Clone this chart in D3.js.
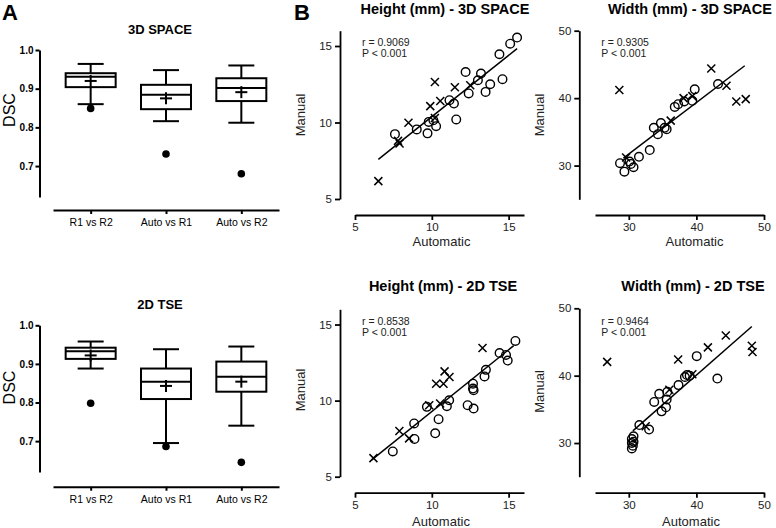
<!DOCTYPE html>
<html><head><meta charset="utf-8">
<script src="https://cdn.jsdelivr.net/npm/d3@7"></script>
<style>body{margin:0;background:#fff}svg{display:block;font-family:"Liberation Sans",Arial,sans-serif}</style>
</head><body>
<script>
// ---------- DATA ----------
const boxCategories = ["R1 vs R2", "Auto vs R1", "Auto vs R2"];
const dscTicks = [0.7, 0.8, 0.9, 1.0];

const spaceWhiskerHigh = [0.964, 0.948, 0.960];
const spaceQ3          = [0.940, 0.910, 0.927];
const spaceMedian      = [0.931, 0.884, 0.902];
const spaceQ1          = [0.904, 0.847, 0.868];
const spaceWhiskerLow  = [0.860, 0.816, 0.812];
const spaceMean        = [0.920, 0.875, 0.891];
const spaceOutliers    = [0.849, 0.731, 0.680];

const tseWhiskerHigh = [0.958, 0.938, 0.945];
const tseQ3          = [0.942, 0.888, 0.906];
const tseMedian      = [0.933, 0.854, 0.867];
const tseQ1          = [0.913, 0.809, 0.828];
const tseWhiskerLow  = [0.888, 0.695, 0.740];
const tseMean        = [0.922, 0.843, 0.854];
const tseOutliers    = [0.798, 0.686, 0.645];

const heightTicks = [5, 10, 15];
const widthTicks = [30, 40, 50];

const heightSpaceCircles = [[15.55,15.55],[15.1,15.15],[14.4,14.46],[14.6,12.83],[13.8,12.5],[13.5,12.0],[13.2,13.2],[13.0,12.76],[12.2,13.3],[12.4,11.9],[11.15,11.46],[11.44,11.24],[11.59,10.2],[9.8,10.04],[10.1,10.15],[10.28,9.76],[9.72,9.29],[9.02,9.55],[7.6,9.24]];
const heightSpaceCrosses = [[10.2,12.65],[11.5,12.3],[12.5,12.44],[10.55,11.41],[9.9,11.07],[8.48,9.98],[7.9,8.63],[7.8,8.8],[6.52,6.17],[10.2,10.3]];
const heightSpaceFit = [[6.52,7.59],[15.55,14.83]];

const widthSpaceCircles = [[43.2,42.1],[39.75,41.3],[39.4,39.6],[38.2,39.5],[36.8,38.7],[37.3,39.1],[34.75,36.3],[33.7,35.6],[34.3,34.65],[35.6,35.4],[35.3,35.6],[33.1,32.3],[31.5,31.3],[28.7,30.35],[30.1,30.6],[29.35,29.1],[30.7,29.75],[30.3,30.25]];
const widthSpaceCrosses = [[28.6,41.2],[42.2,44.4],[44.45,41.85],[45.9,39.5],[47.3,39.85],[36.2,36.67],[29.6,31.2],[38.1,40.0],[39.4,40.3]];
const widthSpaceFit = [[29.2,31.1],[47.15,44.8]];

const heightTseCircles = [[15.44,13.92],[14.41,13.13],[14.83,13.0],[14.94,12.63],[13.52,12.02],[13.43,11.59],[12.68,11.11],[12.68,10.79],[12.72,10.68],[12.33,9.7],[12.72,9.48],[11.13,10.02],[10.98,9.63],[9.68,9.59],[10.44,8.78],[10.22,7.85],[8.85,8.5],[8.87,7.48],[7.46,6.66]];
const heightTseCrosses = [[13.3,13.46],[10.83,11.92],[11.15,11.55],[10.28,11.11],[10.76,11.11],[10.54,9.81],[9.83,9.7],[7.89,8.0],[8.52,7.52],[6.2,6.22]];
const heightTseFit = [[6.09,6.11],[15.33,13.61]];

const widthTseCircles = [[40.05,42.9],[43.1,39.57],[38.3,39.8],[38.6,40.1],[39.0,40.0],[37.35,38.6],[35.7,37.6],[34.5,37.3],[33.76,36.1],[35.6,36.46],[35.5,35.3],[34.85,34.7],[31.56,32.67],[33.0,32.0],[30.7,31.0],[30.45,30.6],[30.7,30.2],[30.45,30.0],[30.6,29.6],[30.45,29.2]];
const widthTseCrosses = [[26.8,42.05],[37.3,42.4],[41.7,44.2],[44.35,45.95],[48.2,44.45],[48.3,43.5],[39.4,40.2],[36.0,37.9],[32.5,32.5]];
const widthTseFit = [[30.6,31.8],[48.2,47.3]];

const rLabels = ["r = 0.9069", "r = 0.9305", "r = 0.8538", "r = 0.9464"];
const pLabel = "P < 0.001";

// ---------- DRAW ----------
const svg = d3.select("body").append("svg").attr("width", 776).attr("height", 528);

svg.append("text").attr("x", 2).attr("y", 19.5).attr("font-size", 22).attr("font-weight", "bold").text("A");
svg.append("text").attr("x", 294).attr("y", 19.5).attr("font-size", 22).attr("font-weight", "bold").text("B");

function boxPanel(o) {
  const g = svg.append("g");
  const x = d3.scalePoint().domain(boxCategories).range([53, 279]).padding(0.5);
  const y = d3.scaleLinear().domain([0.62, 1.0]).range([o.bottom, o.top]);
  const ya = g.append("g").attr("transform", "translate(39.5,0)")
    .call(d3.axisLeft(y).tickValues(dscTicks).tickFormat(d3.format(".1f")).tickSize(4).tickSizeOuter(0).tickPadding(2));
  ya.selectAll("text").attr("font-size", 10).attr("font-weight", "bold").attr("font-family", "Liberation Sans, Arial, sans-serif");
  ya.selectAll("path,line").attr("stroke-width", 2);
  const xa = g.append("g").attr("transform", `translate(0,${o.axisY})`)
    .call(d3.axisBottom(x).tickSize(4).tickSizeOuter(0).tickPadding(4.5));
  xa.selectAll("text").attr("font-size", 10.5).attr("font-family", "Liberation Sans, Arial, sans-serif");
  xa.selectAll("path,line").attr("stroke-width", 2);

  g.append("text").attr("x", 160).attr("y", o.titleY).attr("text-anchor", "middle")
    .attr("font-size", 13).attr("font-weight", "bold").text(o.title);
  g.append("text").attr("transform", `translate(14.5,${o.dscY}) rotate(-90)`).attr("text-anchor", "middle")
    .attr("font-size", 16).text("DSC");

  const bw = 50, cw = 26, pw = 6;
  boxCategories.forEach((c, i) => {
    const cx = x(c);
    const line = (x1, y1, x2, y2) => g.append("line").attr("x1", x1).attr("y1", y1).attr("x2", x2).attr("y2", y2)
      .attr("stroke", "#000").attr("stroke-width", 2);
    line(cx, y(o.wh[i]), cx, y(o.q3[i]));
    line(cx, y(o.q1[i]), cx, y(o.wl[i]));
    line(cx - cw / 2, y(o.wh[i]), cx + cw / 2, y(o.wh[i]));
    line(cx - cw / 2, y(o.wl[i]), cx + cw / 2, y(o.wl[i]));
    g.append("rect").attr("x", cx - bw / 2).attr("y", y(o.q3[i])).attr("width", bw)
      .attr("height", y(o.q1[i]) - y(o.q3[i])).attr("fill", "none").attr("stroke", "#000").attr("stroke-width", 2);
    line(cx - bw / 2, y(o.med[i]), cx + bw / 2, y(o.med[i]));
    line(cx - pw, y(o.mean[i]), cx + pw, y(o.mean[i]));
    line(cx, y(o.mean[i]) - pw, cx, y(o.mean[i]) + pw);
    g.append("circle").attr("cx", cx).attr("cy", y(o.out[i])).attr("r", 3.8).attr("fill", "#000");
  });
}

boxPanel({ top: 50, bottom: 197, axisY: 210, titleY: 34, dscY: 110, title: "3D SPACE",
  wh: spaceWhiskerHigh, q3: spaceQ3, med: spaceMedian, q1: spaceQ1, wl: spaceWhiskerLow, mean: spaceMean, out: spaceOutliers });
boxPanel({ top: 325.3, bottom: 472, axisY: 486.7, titleY: 309, dscY: 387.5, title: "2D TSE",
  wh: tseWhiskerHigh, q3: tseQ3, med: tseMedian, q1: tseQ1, wl: tseWhiskerLow, mean: tseMean, out: tseOutliers });

function scatterPanel(o) {
  const g = svg.append("g");
  const x = d3.scaleLinear().domain(o.dom).range([o.x0, o.x1]);
  const y = d3.scaleLinear().domain(o.dom).range([o.yBottom, o.yTop]);
  const ya = g.append("g").attr("transform", `translate(${o.yAxisX},0)`)
    .call(d3.axisLeft(y).tickValues(o.ticks).tickSize(5).tickSizeOuter(0).tickPadding(3));
  const xa = g.append("g").attr("transform", `translate(0,${o.xAxisY})`)
    .call(d3.axisBottom(x).tickValues(o.ticks).tickSize(5).tickSizeOuter(0).tickPadding(3));
  [ya, xa].forEach(a => {
    a.selectAll("text").attr("font-size", 11.5).attr("font-family", "Liberation Sans, Arial, sans-serif").attr("fill", "#222");
    a.selectAll("path,line").attr("stroke-width", 1.8);
  });
  g.append("text").attr("x", o.titleX).attr("y", o.titleY).attr("text-anchor", "middle")
    .attr("font-size", 14.5).attr("font-weight", "bold").text(o.title);
  g.append("text").attr("transform", `translate(${o.manX},${o.manY}) rotate(-90)`).attr("text-anchor", "middle")
    .attr("font-size", 13).attr("fill", "#222").text("Manual");
  g.append("text").attr("x", o.autoX).attr("y", o.autoY).attr("text-anchor", "middle")
    .attr("font-size", 13).attr("fill", "#222").text("Automatic");
  g.append("text").attr("x", o.yAxisX + 22).attr("y", o.rY).attr("font-size", 10.5).attr("fill", "#222").text(o.r);
  g.append("text").attr("x", o.yAxisX + 22).attr("y", o.rY + 11).attr("font-size", 10.5).attr("fill", "#222").text(pLabel);

  g.append("line").attr("x1", x(o.fit[0][0])).attr("y1", y(o.fit[0][1]))
    .attr("x2", x(o.fit[1][0])).attr("y2", y(o.fit[1][1])).attr("stroke", "#000").attr("stroke-width", 1.5);
  g.selectAll(".c").data(o.circles).enter().append("circle")
    .attr("cx", d => x(d[0])).attr("cy", d => y(d[1])).attr("r", 4.3)
    .attr("fill", "none").attr("stroke", "#000").attr("stroke-width", 1.4);
  const k = 4;
  g.selectAll(".x").data(o.crosses).enter().append("path")
    .attr("d", d => { const cx = x(d[0]), cy = y(d[1]);
      return `M${cx - k},${cy - k}L${cx + k},${cy + k}M${cx - k},${cy + k}L${cx + k},${cy - k}`; })
    .attr("stroke", "#000").attr("stroke-width", 1.5).attr("fill", "none");
}

scatterPanel({ title: "Height (mm) - 3D SPACE", titleX: 445, titleY: 14, dom: [5, 16], ticks: heightTicks,
  x0: 355, x1: 524, yBottom: 199, yTop: 30.7, yAxisX: 340, xAxisY: 215,
  manX: 305, manY: 115, autoX: 441.5, autoY: 246, rY: 46, r: rLabels[0],
  circles: heightSpaceCircles, crosses: heightSpaceCrosses, fit: heightSpaceFit });
scatterPanel({ title: "Width (mm) - 3D SPACE", titleX: 690, titleY: 14, dom: [25, 50], ticks: widthTicks,
  x0: 595, x1: 764, yBottom: 199.3, yTop: 30.7, yAxisX: 579.3, xAxisY: 215,
  manX: 543.5, manY: 115, autoX: 694.5, autoY: 246, rY: 46, r: rLabels[1],
  circles: widthSpaceCircles, crosses: widthSpaceCrosses, fit: widthSpaceFit });
scatterPanel({ title: "Height (mm) - 2D TSE", titleX: 443, titleY: 290.5, dom: [5, 16], ticks: heightTicks,
  x0: 355, x1: 524, yBottom: 476.7, yTop: 309.3, yAxisX: 340, xAxisY: 492.7,
  manX: 305, manY: 390, autoX: 441, autoY: 526, rY: 324.5, r: rLabels[2],
  circles: heightTseCircles, crosses: heightTseCrosses, fit: heightTseFit });
scatterPanel({ title: "Width (mm) - 2D TSE", titleX: 693, titleY: 290.5, dom: [25, 50], ticks: widthTicks,
  x0: 595, x1: 764, yBottom: 476.7, yTop: 308.3, yAxisX: 579.3, xAxisY: 492.7,
  manX: 543.5, manY: 391.5, autoX: 691, autoY: 526, rY: 324.5, r: rLabels[3],
  circles: widthTseCircles, crosses: widthTseCrosses, fit: widthTseFit });
</script>
</body></html>
